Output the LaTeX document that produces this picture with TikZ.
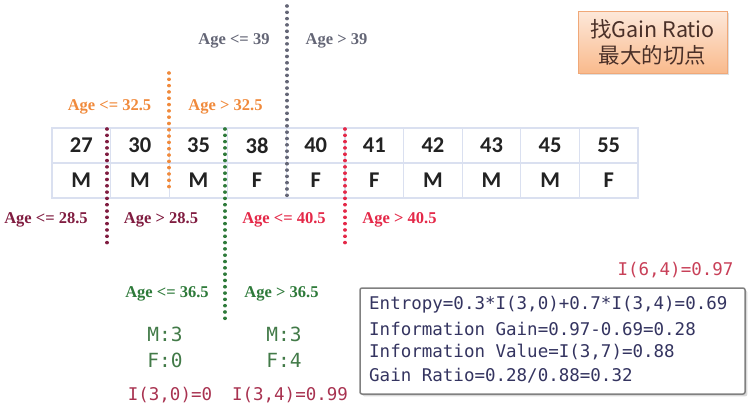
\documentclass[tikz,border=0pt]{standalone}
\usepackage{fontspec}
\setmainfont{Liberation Serif}
\newfontfamily\calfont{Carlito}
\newfontfamily\codefont[WordSpace={1,0,0},Ligatures=ResetAll]{DejaVu Sans Mono}
\newfontfamily\cjkfont{Noto Sans CJK SC}
\usetikzlibrary{positioning, shadows}
\definecolor{CellLine}{RGB}{218, 224, 240}
\definecolor{CellText}{RGB}{34, 34, 34}
\definecolor{CutMaroon}{RGB}{128, 28, 64}
\definecolor{CutOrange}{RGB}{240, 138, 60}
\definecolor{CutGreen}{RGB}{46, 122, 58}
\definecolor{CutGray}{RGB}{100, 102, 118}
\definecolor{CutRed}{RGB}{228, 40, 72}
\definecolor{CountGreen}{RGB}{66, 122, 72}
\definecolor{EntRed}{RGB}{168, 50, 80}
\definecolor{RootRed}{RGB}{200, 64, 88}
\definecolor{InfoText}{RGB}{52, 52, 96}
\definecolor{PeachTop}{RGB}{253, 232, 218}
\definecolor{PeachBot}{RGB}{249, 186, 140}
\definecolor{PeachLine}{RGB}{240, 168, 120}
\definecolor{NoteText}{RGB}{74, 48, 40}

\begin{document}
\begin{tikzpicture}[
    x=1pt, y=-1pt,
    cell/.style={draw=CellLine, line width=1.2pt, minimum width=58.6pt, minimum height=35pt, inner sep=0pt, text=CellText, font=\calfont\fontsize{22.5}{22.5}\selectfont\bfseries},
    cut/.style={line width=3.6pt, line cap=round, dash pattern=on 0.01pt off 6.3pt},
    cond/.style={inner sep=0pt, font=\fontsize{16.5}{17}\selectfont\bfseries},
    count/.style={align=center, text=CountGreen, font=\codefont\fontsize{19.5}{26}\selectfont},
    ival/.style={inner sep=0pt, font=\codefont\fontsize{17.5}{17.5}\selectfont},
    infoline/.style={inner sep=0pt, anchor=west, text=InfoText, font=\codefont\fontsize{17.5}{17.5}\selectfont}
]
\useasboundingbox (0,0) rectangle (755,416);

% table of samples
\foreach \a/\g [count=\i] in {27/M,30/M,35/M,38/F,40/F,41/F,42/M,43/M,45/M,55/F} {
  \node[cell] (age\i) at ({52+58.6*(\i-0.5)},145.5) {\a};
  \node[cell] (sex\i) at ({52+58.6*(\i-0.5)},180.5) {\g};
}

% cut points
\coordinate (c39t) at (287,6);    \coordinate (c39b) at (287,197);
\coordinate (c32t) at (169,73);   \coordinate (c32b) at (169,192);
\coordinate (c28t) at (107,129);  \coordinate (c28b) at (107,247);
\coordinate (c36t) at (225,129);  \coordinate (c36b) at (225,320);
\coordinate (c40t) at (345,129);  \coordinate (c40b) at (345,247);
\draw[cut, CutGray] (c39t) -- (c39b);
\draw[cut, CutOrange] (c32t) -- (c32b);
\draw[cut, CutMaroon] (c28t) -- (c28b);
\draw[cut, CutGreen] (c36t) -- (c36b);
\draw[cut, CutRed] (c40t) -- (c40b);

\node[cond, text=CutGray] (le39) at (234,41) {Age <= 39};
\node[cond, text=CutGray] (gt39) at (336.5,41) {Age > 39};
\node[cond, text=CutOrange] (le32) at (109.5,107) {Age <= 32.5};
\node[cond, text=CutOrange] (gt32) at (225.5,107) {Age > 32.5};
\node[cond, text=CutMaroon] (le28) at (46,220) {Age <= 28.5};
\node[cond, text=CutMaroon] (gt28) at (161,220) {Age > 28.5};
\node[cond, text=CutRed] (le40) at (284,220) {Age <= 40.5};
\node[cond, text=CutRed] (gt40) at (399.5,220) {Age > 40.5};
\node[cond, text=CutGreen] (le36) at (167,294) {Age <= 36.5};
\node[cond, text=CutGreen] (gt36) at (281.5,294) {Age > 36.5};

% counts and entropies of the best cut
\node[count] (cntl) at (165,347) {M:3\\F:0};
\node[count] (cntr) at (284,347) {M:3\\F:4};
\node[ival, text=EntRed] (entl) at (170,395) {I(3,0)=0};
\node[ival, text=EntRed] (entr) at (290,395) {I(3,4)=0.99};
\node[ival, text=RootRed] (entall) at (675.5,270) {I(6,4)=0.97};

\node[draw=gray, line width=1.5pt, rounded corners=2pt, fill=white, drop shadow={opacity=0.3},
      minimum width=385pt, minimum height=106pt] (calc) at (552.5,341) {};
\node[infoline] (ln1) at (369,305) {Entropy=0.3*I(3,0)+0.7*I(3,4)=0.69};
\node[infoline] (ln2) at (369,328.5) {Information\ Gain=0.97-0.69=0.28};
\node[infoline] (ln3) at (369,352) {Information\ Value=I(3,7)=0.88};
\node[infoline] (ln4) at (369,375.5) {Gain\ Ratio=0.28/0.88=0.32};

\node[draw=PeachLine, top color=PeachTop, bottom color=PeachBot, drop shadow={opacity=0.25},
      minimum width=149pt, minimum height=62pt, align=center, text=NoteText,
      font=\cjkfont\fontsize{21.5}{26}\selectfont] (note) at (652.5,42)
  {找Gain Ratio\\最大的切点};
\end{tikzpicture}
\end{document}
